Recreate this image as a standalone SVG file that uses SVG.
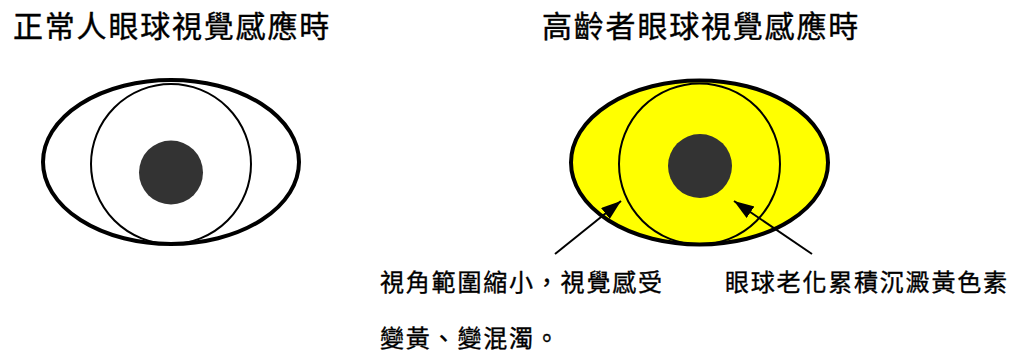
<svg xmlns="http://www.w3.org/2000/svg" width="1013" height="354" viewBox="0 0 1013 354">
  <style>
    .title { font-family: "Noto Sans CJK TC", "Noto Sans CJK SC", sans-serif; font-size: 30px; letter-spacing: 1.8px; fill: #000; stroke: #000; stroke-width: 0.4px; }
    .note { font-family: "Noto Sans CJK TC", "Noto Sans CJK SC", sans-serif; font-size: 24px; letter-spacing: 1.8px; fill: #000; stroke: #000; stroke-width: 0.35px; }
    .sclera { stroke: #000; stroke-width: 4; }
    .iris { fill: none; stroke: #000; stroke-width: 2; }
    .pupil { fill: #333333; }
    .pointer { stroke: #000; stroke-width: 2; fill: none; marker-end: url(#head); }
  </style>
  <defs>
    <marker id="head" markerUnits="userSpaceOnUse" markerWidth="22" markerHeight="16" refX="20" refY="7" orient="auto">
      <path d="M0,0 L20,7 L0,14 Z" fill="#000"/>
    </marker>
  </defs>
  <rect width="1013" height="354" fill="#fff"/>

  <g id="title-normal">
    <text class="title" x="13" y="37">正常人眼球視覺感應時</text>
  </g>
  <g id="title-aged">
    <text class="title" x="542" y="37">高齡者眼球視覺感應時</text>
  </g>

  <!-- healthy eye: clear white lens -->
  <g id="eye-normal">
    <ellipse class="sclera" cx="171" cy="162" rx="128" ry="82" fill="#fff"/>
    <circle class="iris" cx="171" cy="164" r="80"/>
    <circle class="pupil" cx="171" cy="172.5" r="32"/>
  </g>

  <!-- aged eye: yellowed lens -->
  <g id="eye-aged">
    <ellipse class="sclera" cx="699.5" cy="162.5" rx="128.5" ry="82" fill="#ffff00"/>
    <circle class="iris" cx="699.5" cy="164" r="80.5"/>
    <circle class="pupil" cx="700" cy="166" r="32"/>
  </g>

  <g id="connectors">
    <line class="pointer" x1="555" y1="254" x2="621" y2="201"/>
    <line class="pointer" x1="812" y1="254" x2="734" y2="201"/>
  </g>

  <g id="note-field">
    <text class="note" x="380" y="291">視角範圍縮小，視覺感受</text>
    <text class="note" x="380" y="347">變黃、變混濁。</text>
  </g>
  <g id="note-pigment">
    <text class="note" x="725" y="291">眼球老化累積沉澱黃色素</text>
  </g>
</svg>
